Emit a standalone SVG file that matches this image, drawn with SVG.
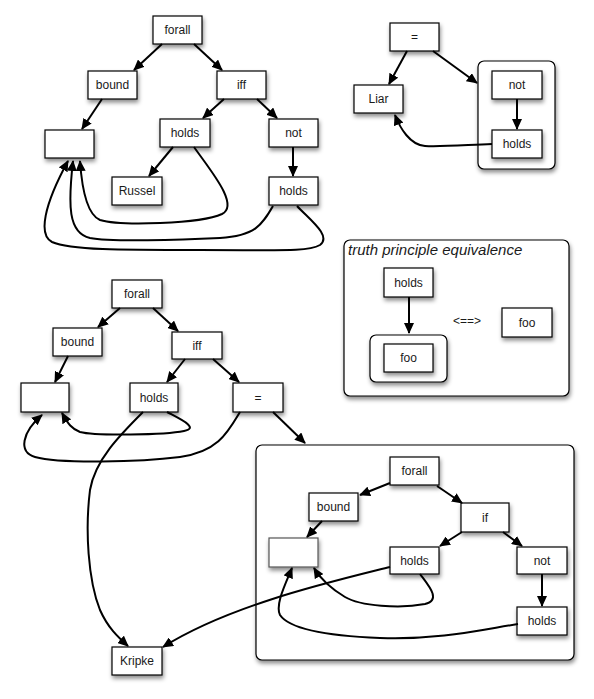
<svg xmlns="http://www.w3.org/2000/svg" width="594" height="699" viewBox="0 0 594 699">
<style>
.n rect{fill:#fff;stroke:#000;stroke-width:1.2;filter:url(#sh)}
.c{fill:#fff;stroke:#000;stroke-width:1.2;filter:url(#sh)}
text{font-family:"Liberation Sans",Arial,sans-serif;font-size:12px;fill:#1a1a1a;text-anchor:middle}
.title{font-size:15px;font-style:italic;text-anchor:start}
#edges path{fill:none;stroke:#000;stroke-width:2;marker-end:url(#ah)}
</style>
<defs>
<filter id="sh" x="-20%" y="-20%" width="150%" height="160%">
<feDropShadow dx="1" dy="3" stdDeviation="2" flood-color="#000" flood-opacity="0.45"/>
</filter>
<marker id="ah" viewBox="0 0 11 10" refX="10" refY="5" markerWidth="11" markerHeight="10" markerUnits="userSpaceOnUse" orient="auto">
<path d="M0,0 L11,5 L0,10 z" fill="#000"/>
</marker>
</defs>
<rect width="594" height="699" fill="#fff"/>

<!-- containers -->
<g id="liar-group"><rect class="c" x="478" y="61" width="77" height="108" rx="6"/></g>
<g id="truth-principle"><rect class="c" x="344" y="240" width="225" height="156" rx="6"/>
<text class="title" x="348" y="255">truth principle equivalence</text></g>
<g id="foo-group"><rect class="c" x="370" y="335" width="77" height="47" rx="6"/></g>
<g id="kripke-group"><rect class="c" x="256" y="445" width="318" height="215" rx="6"/></g>

<!-- top-left graph -->
<g id="tl-forall" class="n"><rect x="153" y="16" width="49" height="28"/><text x="177.5" y="34">forall</text></g>
<g id="tl-bound" class="n"><rect x="88" y="71" width="49" height="28"/><text x="112.5" y="89">bound</text></g>
<g id="tl-iff" class="n"><rect x="217" y="71" width="49" height="28"/><text x="241.5" y="89">iff</text></g>
<g id="tl-var" class="n"><rect x="45" y="130" width="49" height="28"/></g>
<g id="tl-holds1" class="n"><rect x="160" y="119" width="50" height="28"/><text x="185" y="137">holds</text></g>
<g id="tl-not" class="n"><rect x="269" y="119" width="49" height="28"/><text x="293.5" y="137">not</text></g>
<g id="tl-russel" class="n"><rect x="112" y="177" width="50" height="28"/><text x="137" y="195">Russel</text></g>
<g id="tl-holds2" class="n"><rect x="269" y="177" width="49" height="28"/><text x="293.5" y="195">holds</text></g>

<!-- top-right graph -->
<g id="tr-eq" class="n"><rect x="390" y="23" width="49" height="28"/><text x="414.5" y="41">=</text></g>
<g id="tr-liar" class="n"><rect x="354" y="85" width="49" height="28"/><text x="378.5" y="103">Liar</text></g>
<g id="tr-not" class="n"><rect x="492" y="71" width="50" height="28"/><text x="517" y="89">not</text></g>
<g id="tr-holds" class="n"><rect x="492" y="130" width="50" height="28"/><text x="517" y="148">holds</text></g>

<!-- truth principle -->
<g id="tp-holds" class="n"><rect x="384" y="268" width="49" height="29"/><text x="408.5" y="286.5">holds</text></g>
<g id="tp-foo1" class="n"><rect x="384" y="344" width="49" height="28"/><text x="408.5" y="362">foo</text></g>
<g id="tp-equiv"><text x="467" y="325">&lt;==&gt;</text></g>
<g id="tp-foo2" class="n"><rect x="502" y="308" width="50" height="29"/><text x="527" y="326.5">foo</text></g>

<!-- bottom-left graph -->
<g id="bl-forall" class="n"><rect x="112" y="280" width="50" height="28"/><text x="137" y="298">forall</text></g>
<g id="bl-bound" class="n"><rect x="53" y="328" width="49" height="28"/><text x="77.5" y="346">bound</text></g>
<g id="bl-iff" class="n"><rect x="172" y="332" width="50" height="27"/><text x="197" y="350">iff</text></g>
<g id="bl-var" class="n"><rect x="21" y="383" width="48" height="29"/></g>
<g id="bl-holds" class="n"><rect x="130" y="383" width="48" height="29"/><text x="154" y="401.5">holds</text></g>
<g id="bl-eq" class="n"><rect x="233" y="383" width="50" height="29"/><text x="258" y="401.5">=</text></g>
<g id="bl-kripke" class="n"><rect x="112" y="647" width="50" height="28"/><text x="137" y="665">Kripke</text></g>

<!-- kripke container graph -->
<g id="kr-forall" class="n"><rect x="390" y="457" width="49" height="28"/><text x="414.5" y="475">forall</text></g>
<g id="kr-bound" class="n"><rect x="309" y="493" width="49" height="28"/><text x="333.5" y="511">bound</text></g>
<g id="kr-if" class="n"><rect x="461" y="503" width="48" height="29"/><text x="485" y="521.5">if</text></g>
<g id="kr-var" class="n"><rect x="269" y="538" width="49" height="29" style="stroke:#555"/></g>
<g id="kr-holds1" class="n"><rect x="390" y="547" width="49" height="27"/><text x="414.5" y="565">holds</text></g>
<g id="kr-not" class="n"><rect x="517" y="547" width="50" height="27"/><text x="542" y="565">not</text></g>
<g id="kr-holds2" class="n"><rect x="517" y="607" width="50" height="28"/><text x="542" y="625">holds</text></g>

<g id="edges">
<!-- top-left -->
<path d="M162,44 L134,70"/>
<path d="M194,44 L222,70"/>
<path d="M102,99 L82,129"/>
<path d="M224,99 L203,118"/>
<path d="M257,99 L277,118"/>
<path d="M173,147 L149,176"/>
<path d="M293,147 L293,176"/>
<path d="M194,147 C210,170 240,205 222,214 C200,224 120,226 100,220 C88,215 82,190 80,161"/>
<path d="M273,206 C262,225 255,236 220,238 C180,240 110,242 90,238 C68,233 68,205 73,161"/>
<path d="M297,206 C310,220 332,236 320,245 C308,252 280,250 200,250 C120,250 70,250 52,242 C38,235 44,205 68,161"/>
<!-- top-right -->
<path d="M407,51 L389,84"/>
<path d="M433,51 L477,83"/>
<path d="M517,99 L517,129"/>
<path d="M492,144 C465,145 440,147 425,146 C410,145 400,128 395,115"/>
<!-- truth principle -->
<path d="M409,297 L409,333"/>
<!-- bottom-left -->
<path d="M120,308 L98,327"/>
<path d="M153,308 L178,331"/>
<path d="M68,356 L55,382"/>
<path d="M185,359 L167,382"/>
<path d="M213,359 L239,382"/>
<path d="M273,412 L305,443"/>
<path d="M167,412 C180,419 200,428 184,431 C165,435 95,436 80,432 C72,429 68,424 62,413"/>
<path d="M240,412 C228,432 218,452 180,457 C140,462 60,464 35,457 C18,452 22,432 42,415"/>
<path d="M143,412 C120,435 95,460 90,490 C85,530 88,580 100,610 C108,628 118,637 128,646"/>
<path d="M390,567 C330,582 230,605 163,647"/>
<!-- kripke container -->
<path d="M390,483 L360,495"/>
<path d="M437,486 L462,503"/>
<path d="M322,521 L307,537"/>
<path d="M462,532 L440,546"/>
<path d="M503,532 L522,546"/>
<path d="M542,574 L542,606"/>
<path d="M420,574 C428,585 442,600 425,604 C400,609 360,606 345,597 C330,588 320,578 314,568"/>
<path d="M518,624 C480,630 440,640 380,638 C330,636 290,630 280,615 C275,605 285,585 292,568"/>
</g>
</svg>
